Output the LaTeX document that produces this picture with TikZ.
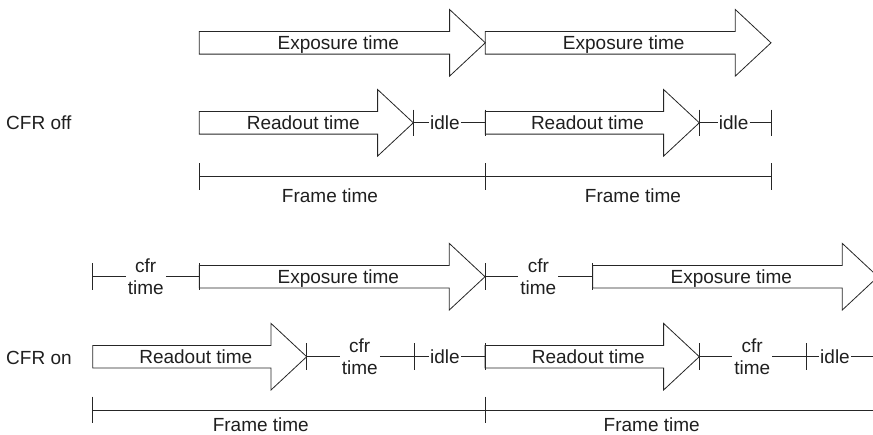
\documentclass[tikz,border=0pt]{standalone}
\usepackage{fontspec}
\setmainfont{Liberation Sans}
\newcommand\myarrow[3]{%
  \draw[arrowshape] (#1,#3-11.3) -- (#2-35.7,#3-11.3) -- (#2-35.7,#3-33.3) -- (#2,#3)
    -- (#2-35.7,#3+33.3) -- (#2-35.7,#3+11.3) -- (#1,#3+11.3) -- cycle;}
\newcommand\mytick[3]{%
  \coordinate (#1) at (#2,#3);
  \draw[tickline] ([yshift=13.3pt]#1) -- ([yshift=-13.3pt]#1);}
\begin{document}
\begin{tikzpicture}[x=1pt,y=-1pt,
  every node/.style={font=\fontsize{19}{22.3}\selectfont, text=black!88},
  arrowshape/.style={draw=black!85, line width=0.8pt, line join=miter},
  tickline/.style={draw=black!85, line width=0.8pt},
  conn/.style={draw=black!85, line width=0.8pt},
  lbl/.style={anchor=base, inner sep=0pt},
  idlebox/.style={inner sep=1pt, anchor=center},
  cfrbox/.style={inner sep=2pt, align=center, anchor=center}]
\useasboundingbox (0,0) rectangle (873,434);
\clip (0,0) rectangle (873,434);

% side labels
\node[anchor=base west, inner sep=0pt] (cfroff) at (6,129.3) {CFR off};
\node[anchor=base west, inner sep=0pt] (cfron) at (6,364.3) {CFR on};

% row 1: exposure
\myarrow{199.3}{485.3}{42.8}
\myarrow{485.3}{771}{42.8}
\node[lbl] (e1) at (338.3,49.3) {Exposure time};
\node[lbl] (e2) at (623.7,49.3) {Exposure time};

% row 2: readout (CFR off)
\myarrow{199.3}{413.3}{122.8}
\myarrow{485.3}{699.3}{122.8}
\node[lbl] (r1) at (303.3,129.3) {Readout time};
\node[lbl] (r2) at (587.5,129.3) {Readout time};
\mytick{a1}{413.3}{122.8}
\mytick{a2}{485.3}{122.8}
\mytick{a3}{699.3}{122.8}
\mytick{a4}{771}{122.8}
\node[idlebox] (i1) at (445,122.8) {idle};
\node[idlebox] (i2) at (733.7,122.8) {idle};
\draw[conn] (a1) -- (i1) -- (a2);
\draw[conn] (a3) -- (i2) -- (a4);

% frame time (CFR off)
\mytick{f1}{199.3}{176.7}
\mytick{f2}{485.3}{176.7}
\mytick{f3}{771}{176.7}
\draw[conn] (f1) -- (f3);
\node[lbl] (ft1) at (330,202) {Frame time};
\node[lbl] (ft2) at (633,202) {Frame time};

% row 3: exposure (CFR on)
\myarrow{199.3}{485}{276.7}
\myarrow{592.7}{878}{276.7}
\node[lbl] (e3) at (338.3,283.2) {Exposure time};
\node[lbl] (e4) at (731.3,283.2) {Exposure time};
\mytick{b1}{92.7}{276.7}
\mytick{b2}{199.3}{276.7}
\mytick{b3}{485}{276.7}
\mytick{b4}{592.7}{276.7}
\node[cfrbox] (c1) at (145.7,276.7) {cfr\\time};
\node[cfrbox] (c2) at (538.3,276.7) {cfr\\time};
\draw[conn] (b1) -- (c1) -- (b2);
\draw[conn] (b3) -- (c2) -- (b4);

% row 4: readout (CFR on)
\myarrow{92.7}{306.7}{356.7}
\myarrow{485}{699.3}{356.7}
\node[lbl] (r3) at (195.8,363.2) {Readout time};
\node[lbl] (r4) at (588.3,363.2) {Readout time};
\mytick{d1}{306.7}{356.7}
\mytick{d2}{414.3}{356.7}
\mytick{d3}{485}{356.7}
\mytick{d4}{699.3}{356.7}
\mytick{d5}{806.7}{356.7}
\coordinate (dend) at (873,356.7);
\node[cfrbox] (c3) at (359.7,356.7) {cfr\\time};
\node[cfrbox] (c4) at (752.2,356.7) {cfr\\time};
\node[idlebox] (i3) at (445,356.7) {idle};
\node[idlebox] (i4) at (835,356.7) {idle};
\draw[conn] (d1) -- (c3) -- (d2) -- (i3) -- (d3);
\draw[conn] (d4) -- (c4) -- (d5) -- (i4) -- (dend);

% frame time (CFR on)
\mytick{g1}{92.7}{410}
\mytick{g2}{485}{410}
\coordinate (gend) at (873,410);
\draw[conn] (g1) -- (gend);
\node[lbl] (ft3) at (260.8,431) {Frame time};
\node[lbl] (ft4) at (651.7,431) {Frame time};
\end{tikzpicture}
\end{document}
